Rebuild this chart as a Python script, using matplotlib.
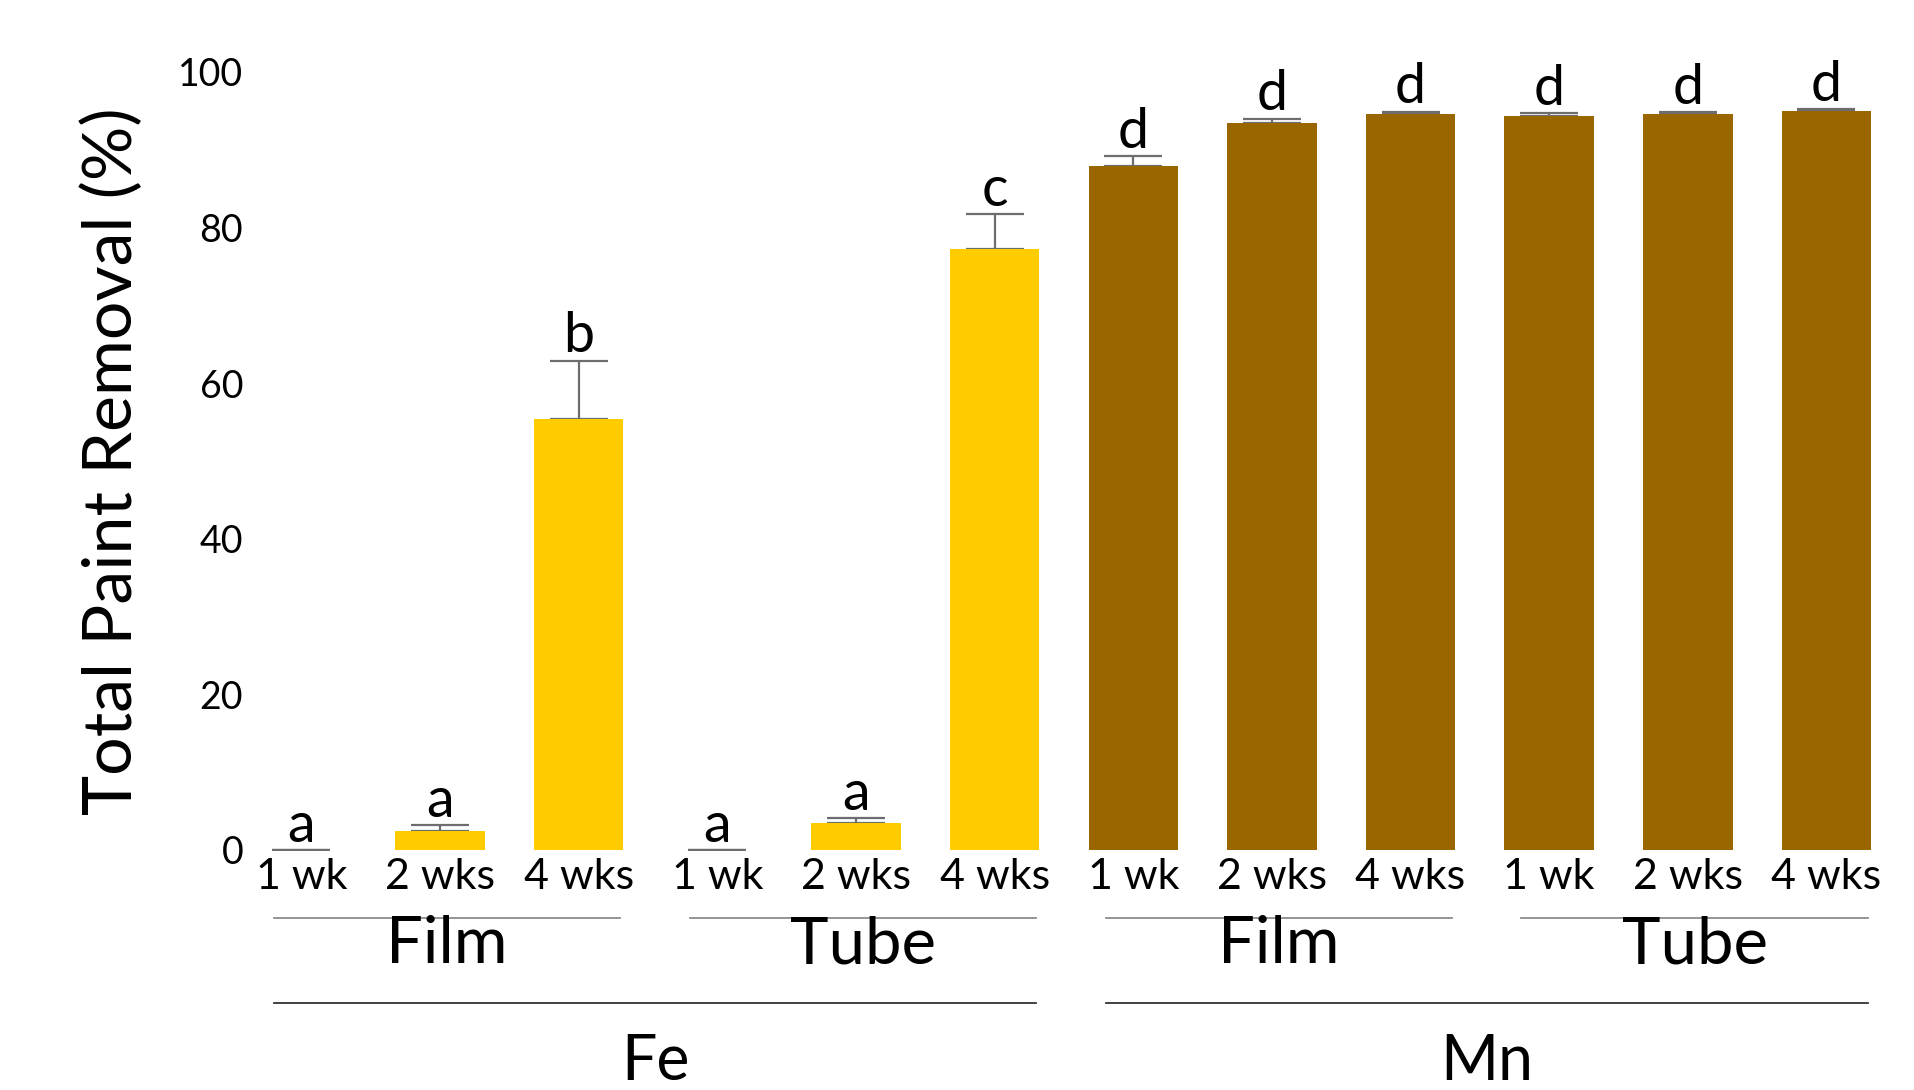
import matplotlib
matplotlib.use('Agg')
import matplotlib.pyplot as plt
import matplotlib.transforms as mtransforms
import numpy as np

plt.rcParams['font.family'] = ['Lato', 'DejaVu Sans']

# values
metals = ['Fe', 'Mn']
forms = ['Film', 'Tube', 'Film', 'Tube']
times = ['1 wk', '2 wks', '4 wks'] * 4
removal = [0.0, 2.4, 55.4, 0.0, 3.5, 77.2,
           87.9, 93.4, 94.6, 94.3, 94.6, 95.0]
err = [0.0, 0.8, 7.5, 0.0, 0.6, 4.5,
       1.3, 0.6, 0.3, 0.4, 0.2, 0.2]
letters = ['a', 'a', 'b', 'a', 'a', 'c',
           'd', 'd', 'd', 'd', 'd', 'd']
fe_color = '#FFCC00'
mn_color = '#996600'

x = np.arange(len(removal))
colors = [fe_color] * 6 + [mn_color] * 6

fig = plt.figure(figsize=(19.14, 10.9), dpi=100)
ax = fig.add_axes([0.1285, 0.2202, 0.862, 0.7138])

ax.bar(x, removal, width=0.645, color=colors, zorder=2)
ax.errorbar(x, removal, yerr=[np.zeros(len(err)), err], fmt='none',
            ecolor='#6d6d6d', elinewidth=1.6, capsize=21, capthick=1.6,
            zorder=1)

for xi, v, e, lab in zip(x, removal, err, letters):
    ax.annotate(lab, (xi, v + e), xytext=(0, 6), textcoords='offset points',
                ha='center', va='baseline', fontsize=40, annotation_clip=False)

ax.set_xlim(-0.4, 11.5)
ax.set_ylim(0, 100)
ax.set_yticks([0, 20, 40, 60, 80, 100])
ax.tick_params(axis='y', length=0, pad=2, labelsize=27)
ax.set_xticks(x)
ax.set_xticklabels(times)
ax.tick_params(axis='x', length=0, pad=6, labelsize=31)
for s in ax.spines.values():
    s.set_visible(False)

trans = mtransforms.blended_transform_factory(ax.transData, ax.transAxes)

# sub-group brackets (Film / Tube)
for g in range(4):
    x0 = 3 * g - 0.2
    x1 = 3 * g + 2 + 0.3
    ax.plot([x0, x1], [-0.0874, -0.0874], transform=trans, color='#8c8c8c',
            lw=1.3, clip_on=False)
    ax.text((x0 + x1) / 2, -0.1215, forms[g], transform=trans, ha='center',
            va='center', fontsize=47)

# metal brackets (Fe / Mn)
for m in range(2):
    x0 = 6 * m - 0.2
    x1 = 6 * m + 5 + 0.3
    ax.plot([x0, x1], [-0.1967, -0.1967], transform=trans, color='#333333',
            lw=1.3, clip_on=False)
    ax.text((x0 + x1) / 2, -0.2725, metals[m], transform=trans, ha='center',
            va='center', fontsize=45)

fig.text(113 / 1914, 1 - 461 / 1090, 'Total Paint Removal (%)', rotation=90,
         ha='center', va='center', fontsize=49)

fig.savefig('out.png', dpi=100)
